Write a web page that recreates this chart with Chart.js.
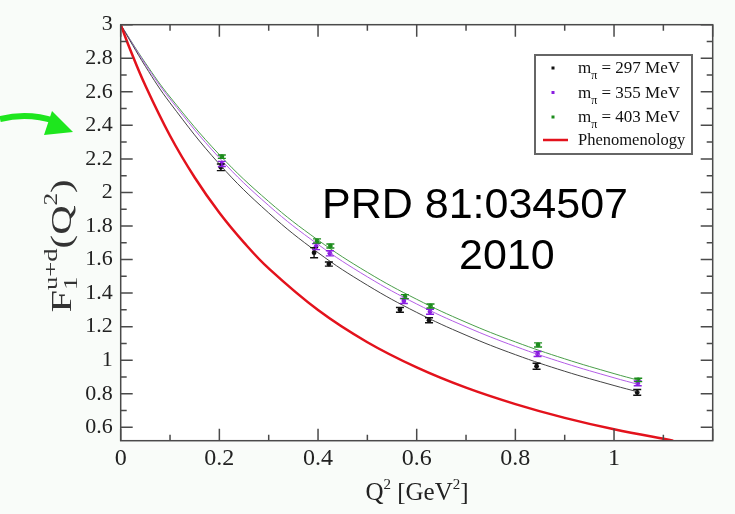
<!DOCTYPE html>
<html lang="en">
<head>
  <meta charset="UTF-8">
  <title>F1 u+d (Q^2)</title>
  <script src="https://cdn.jsdelivr.net/npm/chart.js"></script>
  <style>
    html, body { margin: 0; padding: 0; background: #f9fcf9; }
  </style>
</head>
<body>
  <canvas id="chart" width="735" height="514"></canvas>

  <script>
    // lattice points, Q^2 in GeV^2
    const q2_297 = [0.203, 0.392, 0.422, 0.566, 0.625, 0.843, 1.047];
    const f1_297 = [2.150, 1.641, 1.573, 1.300, 1.238, 0.964, 0.808];
    const err_297 = [0.020, 0.030, 0.012, 0.014, 0.015, 0.018, 0.017];

    const q2_355 = [0.205, 0.396, 0.424, 0.574, 0.627, 0.845, 1.048];
    const f1_355 = [2.170, 1.677, 1.637, 1.353, 1.289, 1.037, 0.862];
    const err_355 = [0.015, 0.018, 0.015, 0.015, 0.015, 0.015, 0.014];

    const q2_403 = [0.205, 0.398, 0.425, 0.576, 0.628, 0.846, 1.049];
    const f1_403 = [2.213, 1.711, 1.681, 1.379, 1.323, 1.091, 0.882];
    const err_403 = [0.010, 0.012, 0.012, 0.012, 0.012, 0.012, 0.010];

    // fit curves
    const fitQ2  = [0, 0.05, 0.1, 0.2, 0.3, 0.4, 0.5, 0.6, 0.7, 0.8, 0.9, 1.0, 1.05];
    const fit297 = [3, 2.752, 2.534, 2.169, 1.878, 1.641, 1.447, 1.285, 1.149, 1.033, 0.934, 0.849, 0.810];
    const fit355 = [3, 2.765, 2.557, 2.206, 1.922, 1.690, 1.497, 1.335, 1.199, 1.082, 0.982, 0.895, 0.855];
    const fit403 = [3, 2.772, 2.569, 2.225, 1.946, 1.716, 1.524, 1.363, 1.226, 1.109, 1.008, 0.920, 0.880];

    // phenomenology curve
    const phenoQ2 = [0, 0.02, 0.05, 0.1, 0.15, 0.2, 0.25, 0.3, 0.4, 0.5, 0.6, 0.7, 0.8, 0.9, 1.0, 1.12];
    const phenoF1 = [3, 2.846, 2.637, 2.338, 2.089, 1.879, 1.701, 1.547, 1.299, 1.107, 0.957, 0.836, 0.738, 0.656, 0.588, 0.520];

    const xTicks = [0, 0.2, 0.4, 0.6, 0.8, 1];
    const yTicks = [0.6, 0.8, 1, 1.2, 1.4, 1.6, 1.8, 2, 2.2, 2.4, 2.6, 2.8, 3];
    const massLabels = ['297 MeV', '355 MeV', '403 MeV'];

    const SERIF = '"Liberation Serif", "DejaVu Serif", serif';
    const C_BLACK = '#111111', C_PURPLE = '#8a1ee0', C_GREEN = '#1c8c1c', C_RED = '#e3121c';

    function pts(xs, ys) { return xs.map((x, i) => ({ x: x, y: ys[i] })); }

    // text pieces with sub/superscripts
    function richWidth(ctx, parts) {
      let w = 0;
      parts.forEach(p => { ctx.font = p.size + 'px ' + SERIF; w += p.adv === false ? 0 : ctx.measureText(p.t).width; });
      return w;
    }
    function drawRich(ctx, parts, x, y) {
      parts.forEach(p => {
        ctx.font = p.size + 'px ' + SERIF;
        ctx.fillText(p.t, x, y + (p.dy || 0));
        if (p.adv !== false) x += ctx.measureText(p.t).width;
      });
    }

    const errorBars = {
      id: 'errorBars',
      afterDatasetsDraw(chart) {
        const ctx = chart.ctx, xs = chart.scales.x, ys = chart.scales.y;
        chart.data.datasets.forEach(ds => {
          if (!ds.err) return;
          ctx.save();
          ctx.strokeStyle = ds.borderColor;
          ctx.lineWidth = 1.4;
          ds.data.forEach((p, i) => {
            const px = xs.getPixelForValue(p.x);
            const y1 = ys.getPixelForValue(p.y - ds.err[i]);
            const y2 = ys.getPixelForValue(p.y + ds.err[i]);
            ctx.beginPath();
            ctx.moveTo(px, y1); ctx.lineTo(px, y2);
            ctx.moveTo(px - 4, y1); ctx.lineTo(px + 4, y1);
            ctx.moveTo(px - 4, y2); ctx.lineTo(px + 4, y2);
            ctx.stroke();
          });
          ctx.restore();
        });
      }
    };

    const frame = {
      id: 'frame',
      beforeDraw(chart) {
        const { ctx, chartArea: a } = chart;
        ctx.save();
        ctx.fillStyle = '#ffffff';
        ctx.fillRect(a.left, a.top, a.right - a.left, a.bottom - a.top);
        ctx.restore();
      },
      afterDraw(chart) {
        const { ctx, chartArea: a } = chart;
        const xs = chart.scales.x, ys = chart.scales.y;
        ctx.save();
        ctx.strokeStyle = '#4a4a4a';
        ctx.lineWidth = 1.5;
        ctx.strokeRect(a.left, a.top, a.right - a.left, a.bottom - a.top);

        // inward ticks, major every 0.2, minor every 0.1
        ctx.beginPath();
        for (let k = 0; k <= 12; k++) {
          const px = xs.getPixelForValue(k / 10);
          const len = k % 2 === 0 ? 12 : 6;
          ctx.moveTo(px, a.bottom); ctx.lineTo(px, a.bottom - len);
          ctx.moveTo(px, a.top); ctx.lineTo(px, a.top + len);
        }
        for (let k = 6; k <= 30; k++) {
          const py = ys.getPixelForValue(k / 10);
          const len = k % 2 === 0 ? 12 : 6;
          ctx.moveTo(a.left, py); ctx.lineTo(a.left + len, py);
          ctx.moveTo(a.right, py); ctx.lineTo(a.right - len, py);
        }
        ctx.stroke();

        // legend box
        ctx.fillStyle = '#ffffff';
        ctx.fillRect(535, 55, 157, 99);
        ctx.strokeStyle = '#666666';
        ctx.lineWidth = 2;
        ctx.strokeRect(535, 55, 157, 99);
        const rows = [68, 92.5, 117];
        const cols = [C_BLACK, C_PURPLE, C_GREEN];
        ctx.textBaseline = 'alphabetic';
        rows.forEach((ry, i) => {
          ctx.fillStyle = cols[i];
          ctx.fillRect(551.5, ry - 1.5, 3, 3);
          ctx.fillStyle = '#111';
          drawRich(ctx, [
            { t: 'm', size: 17 },
            { t: 'π', size: 12, dy: 6 },
            { t: ' = ' + massLabels[i], size: 17 }
          ], 578, ry + 5);
        });
        ctx.strokeStyle = C_RED; ctx.lineWidth = 2.5;
        ctx.beginPath(); ctx.moveTo(543, 140); ctx.lineTo(568, 140); ctx.stroke();
        ctx.fillStyle = '#111';
        drawRich(ctx, [{ t: 'Phenomenology', size: 16.5 }], 578, 145);

        // axis titles
        ctx.fillStyle = '#222';
        const xt = [
          { t: 'Q', size: 25 }, { t: '2', size: 15, dy: -11 },
          { t: ' [GeV', size: 25 }, { t: '2', size: 15, dy: -11 }, { t: ']', size: 25 }
        ];
        drawRich(ctx, xt, 417 - richWidth(ctx, xt) / 2, 500);

        // y title, a little elongated along the text as in the original
        const yt = [
          { t: 'F', size: 29 }, { t: '1', size: 19, dy: 6, adv: false },
          { t: 'u+d', size: 19, dy: -14 },
          { t: '(Q', size: 29 }, { t: '2', size: 18, dy: -14 }, { t: ')', size: 29 }
        ];
        ctx.save();
        ctx.fillStyle = '#333';
        ctx.translate(71, 246);
        ctx.rotate(-Math.PI / 2);
        ctx.scale(1.4, 1);
        drawRich(ctx, yt, -richWidth(ctx, yt) / 2, 0);
        ctx.restore();

        // reference annotation
        ctx.fillStyle = '#000';
        ctx.font = '43px "Liberation Sans", Arial, sans-serif';
        ctx.fillText('PRD 81:034507', 322, 218);
        ctx.fillText('2010', 459, 269);

        // green arrow pointing at the axis
        ctx.strokeStyle = '#1ee61e';
        ctx.fillStyle = '#1ee61e';
        ctx.lineWidth = 6;
        ctx.beginPath();
        ctx.moveTo(0, 119);
        ctx.quadraticCurveTo(28, 112, 55, 121);
        ctx.stroke();
        ctx.beginPath();
        ctx.moveTo(73, 132);
        ctx.lineTo(52, 111);
        ctx.lineTo(44, 135);
        ctx.closePath();
        ctx.fill();
        ctx.restore();
      }
    };

    const lineDs = (label, data, color, width) => ({
      label: label, data: data, showLine: true, borderColor: color, borderWidth: width,
      pointRadius: 0, tension: 0.4, fill: false
    });
    const pointDs = (label, data, color, err) => ({
      label: label, data: data, showLine: false, borderColor: color, backgroundColor: color,
      pointRadius: 2.4, pointBorderWidth: 0, err: err
    });

    new Chart(document.getElementById('chart').getContext('2d'), {
      type: 'scatter',
      data: {
        datasets: [
          lineDs('Phenomenology', pts(phenoQ2, phenoF1), C_RED, 2.5),
          lineDs('fit 297', pts(fitQ2, fit297), '#444444', 1),
          lineDs('fit 355', pts(fitQ2, fit355), '#b35ee6', 1),
          lineDs('fit 403', pts(fitQ2, fit403), '#4a9e4a', 1),
          pointDs('m_pi = 297 MeV', pts(q2_297, f1_297), C_BLACK, err_297),
          pointDs('m_pi = 355 MeV', pts(q2_355, f1_355), C_PURPLE, err_355),
          pointDs('m_pi = 403 MeV', pts(q2_403, f1_403), C_GREEN, err_403)
        ]
      },
      options: {
        responsive: false,
        animation: false,
        layout: { padding: { top: 24.7, right: 22.3, left: 0, bottom: 0 } },
        plugins: { legend: { display: false }, tooltip: { enabled: false } },
        scales: {
          x: {
            type: 'linear', min: 0, max: 1.2,
            afterBuildTicks: s => { s.ticks = xTicks.map(v => ({ value: v })); },
            afterFit: s => { s.height = 73.3; },
            grid: { display: false, drawTicks: false },
            border: { display: false },
            ticks: { color: '#222', padding: 4, maxRotation: 0, autoSkip: false,
                     font: { family: SERIF, size: 24 }, callback: v => String(v) }
          },
          y: {
            type: 'linear', min: 0.52, max: 3,
            afterBuildTicks: s => { s.ticks = yTicks.map(v => ({ value: v })); },
            afterFit: s => { s.width = 120.7; },
            grid: { display: false, drawTicks: false },
            border: { display: false },
            ticks: { color: '#222', padding: 8, autoSkip: false,
                     font: { family: SERIF, size: 22 }, callback: v => String(v) }
          }
        }
      },
      plugins: [frame, errorBars]
    });
  </script>
</body>
</html>
